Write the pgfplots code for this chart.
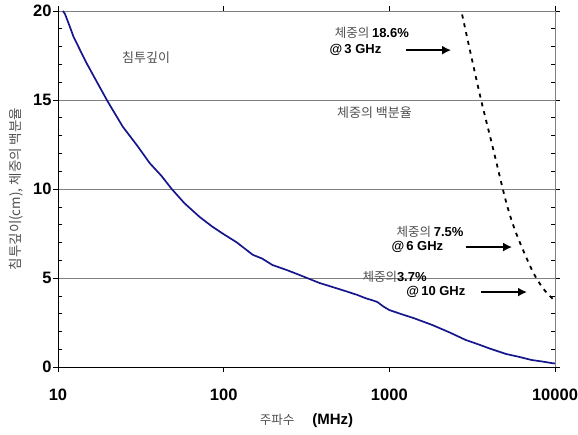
\documentclass[border=0pt]{standalone}
\usepackage{pgfplots}
\pgfplotsset{compat=1.18}
\usetikzlibrary{arrows.meta}
\usepackage{fontspec}
\setmainfont{Liberation Sans}
\newfontfamily\kr{Noto Sans CJK KR}
\definecolor{navy}{RGB}{22,22,140}
\definecolor{txtgray}{RGB}{80,80,80}
\definecolor{gridgray}{RGB}{128,128,128}
\begin{document}
\begin{tikzpicture}
\useasboundingbox (-58pt,-67pt) rectangle (520pt,367pt);
\begin{axis}[
  at={(0,0)}, anchor=south west,
  scale only axis, width=497pt, height=356pt,
  xmode=log, xmin=10, xmax=10000, ymin=0, ymax=20,
  log basis x=10,
  xtick={10,100,1000,10000},
  xticklabels={10,100,1000,10000},
  ytick={0,5,10,15,20},
  minor y tick num=4,
  tick align=inside,
  major tick length=0pt,
  minor tick length=4pt,
  extra x ticks={10,100,1000,10000}, extra x tick labels={},
  extra x tick style={tick align=outside, major tick length=5pt, grid=none},
  extra y ticks={0,5,10,15,20}, extra y tick labels={},
  extra y tick style={tick align=outside, major tick length=5pt, ymajorgrids=false},
  ymajorgrids, major grid style={gridgray, line width=0.7pt},
  axis line style={draw=none},
  tick style={black, line width=0.6pt},
  /pgf/number format/assume math mode=true,
  ticklabel style={font=\bfseries\fontsize{16.5}{16.5}\selectfont},
  xticklabel style={yshift=-18pt},
  yticklabel style={xshift=-3pt},
  xlabel={{\kr\color{txtgray}\fontsize{12.5}{12.5}\selectfont 주파수}\hspace{18pt}{\bfseries\fontsize{15}{15}\selectfont (MHz)}},
  xlabel style={yshift=-2pt},
  ylabel={\kr\color{txtgray}\fontsize{13.5}{13.5}\selectfont 침투깊이(cm), 체중의 백분율},
  ylabel style={yshift=-2pt},
  clip=false,
]
\draw[black, line width=0.8pt] (rel axis cs:0,1) -- (rel axis cs:0,0) -- (rel axis cs:1,0);
\draw[gridgray, line width=0.9pt] (rel axis cs:1,0) -- (rel axis cs:1,1);
\addplot[navy, line width=1.7pt] coordinates {
(10.7,20.0) (11.0,19.85) (11.7,19.2) (12.4,18.56) (13.6,17.8) (14.9,17.06) (17.2,16.0) (20,14.9)
(24.6,13.5) (30,12.45) (35.8,11.45) (42,10.75) (48.6,10.0) (58,9.2) (71.6,8.43) (85,7.9)
(98.6,7.5) (120,7.0) (150,6.3) (170,6.1) (197,5.73) (240,5.45) (287,5.17) (379,4.72)
(470,4.45) (550,4.25) (640,4.05) (726,3.85) (790,3.75) (847,3.65) (920,3.4) (1000,3.2)
(1200,2.95) (1400,2.75) (1817,2.36) (2300,1.95) (2890,1.52) (3500,1.25) (4000,1.05)
(5070,0.73) (6000,0.58) (7260,0.39) (8500,0.3) (9550,0.22) (10000,0.2)
};
\addplot[black, line width=1.8pt, dash pattern=on 4pt off 5pt, smooth] coordinates {
(2750,19.8) (3150,17.3) (3580,15.0) (4170,12.5) (5070,9.27) (5820,7.53)
(7260,5.45) (8500,4.4) (10000,3.7)
};
% annotations
\node[font=\kr\fontsize{13}{13}\selectfont, text=txtgray] at (axis cs:34,17.4) {침투깊이};
\node[font=\kr\fontsize{13}{13}\selectfont, text=txtgray] at (axis cs:813,14.27) {체중의 백분율};
\node[anchor=west, inner sep=0pt] at (axis cs:467,18.76) {{\kr\color{txtgray}\fontsize{12.5}{12.5}\selectfont 체중의} {\bfseries\fontsize{13}{13}\selectfont 18.6\%}};
\node[anchor=west, inner sep=0pt] at (axis cs:435,17.8) {\bfseries\fontsize{13}{13}\selectfont @\,3 GHz};
\draw[black, line width=2.4pt, -{Latex[length=9pt,width=9pt]}] (axis cs:1265,17.8) -- (axis cs:2360,17.8);
\node[anchor=west, inner sep=0pt] at (axis cs:1102,7.58) {{\kr\color{txtgray}\fontsize{12.5}{12.5}\selectfont 체중의} {\bfseries\fontsize{13}{13}\selectfont 7.5\%}};
\node[anchor=west, inner sep=0pt] at (axis cs:1028,6.74) {\bfseries\fontsize{13}{13}\selectfont @\,6 GHz};
\draw[black, line width=2.4pt, -{Latex[length=9pt,width=9pt]}] (axis cs:2910,6.74) -- (axis cs:5510,6.74);
\node[anchor=west, inner sep=0pt] at (axis cs:687,5.06) {{\kr\color{txtgray}\fontsize{12.5}{12.5}\selectfont 체중의}{\bfseries\fontsize{13}{13}\selectfont 3.7\%}};
\node[anchor=west, inner sep=0pt] at (axis cs:1265,4.21) {\bfseries\fontsize{13}{13}\selectfont @\,10 GHz};
\draw[black, line width=2.4pt, -{Latex[length=9pt,width=9pt]}] (axis cs:3580,4.21) -- (axis cs:6780,4.21);
\end{axis}
\end{tikzpicture}
\end{document}
